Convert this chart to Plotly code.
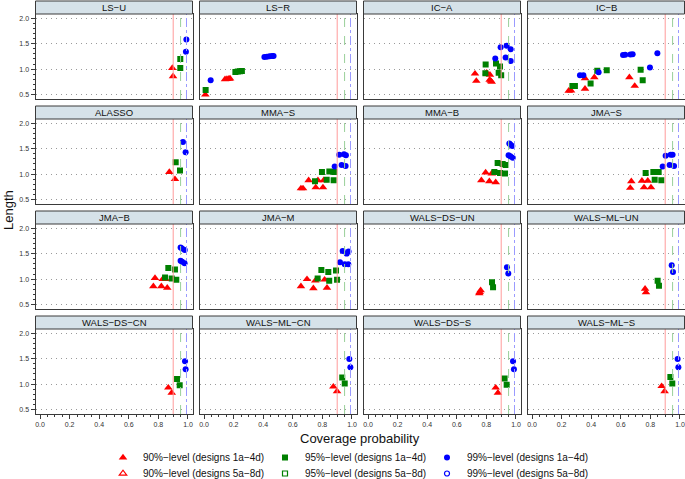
import plotly.graph_objects as go

W, H = 685, 479

panels = ["LS\u2212U", "LS\u2212R", "IC\u2212A", "IC\u2212B",
          "ALASSO", "MMA\u2212S", "MMA\u2212B", "JMA\u2212S",
          "JMA\u2212B", "JMA\u2212M", "WALS\u2212DS\u2212UN", "WALS\u2212ML\u2212UN",
          "WALS\u2212DS\u2212CN", "WALS\u2212ML\u2212CN", "WALS\u2212DS\u2212S", "WALS\u2212ML\u2212S"]

# 90%-level, designs 1a-4d
cov90 = [
    [0.894, 0.899],
    [0.009, 0.142, 0.155, 0.168, 0.176],
    [0.723, 0.732, 0.802, 0.824, 0.822, 0.836, 0.830],
    [0.248, 0.264, 0.358, 0.358, 0.421, 0.658, 0.694],
    [0.874, 0.912],
    [0.655, 0.669, 0.707, 0.755, 0.770, 0.804, 0.809],
    [0.766, 0.795, 0.820, 0.836, 0.863, 0.865],
    [0.664, 0.671, 0.743, 0.757, 0.782, 0.804],
    [0.766, 0.777, 0.820, 0.829, 0.860, 0.849],
    [0.655, 0.696, 0.739, 0.752, 0.815, 0.831],
    [0.752, 0.755, 0.761],
    [0.764, 0.770],
    [0.867, 0.890],
    [0.874, 0.899],
    [0.863, 0.878],
    [0.876, 0.896],
]
len90 = [
    [1.02, 0.86],
    [0.50, 0.800, 0.805, 0.810, 0.815],
    [0.91, 0.77, 0.93, 0.89, 0.79, 0.75, 0.77],
    [0.575, 0.58, 0.614, 0.82, 0.84, 0.84, 0.67],
    [1.04, 0.90],
    [0.72, 0.72, 0.88, 0.74, 0.88, 0.74, 0.88],
    [0.88, 1.03, 0.86, 1.01, 0.84, 1.02],
    [0.73, 0.86, 0.87, 0.74, 0.87, 0.74],
    [0.86, 1.02, 0.86, 1.00, 0.83, 1.00],
    [0.86, 1.00, 0.82, 0.97, 0.99, 0.83],
    [0.72, 0.745, 0.78],
    [0.81, 0.74],
    [0.93, 0.83],
    [0.95, 0.86],
    [0.93, 0.83],
    [0.96, 0.86],
]

# 95%-level, designs 1a-4d
cov95 = [
    [0.948, 0.948],
    [0.011, 0.212, 0.228, 0.243, 0.256],
    [0.795, 0.793, 0.865, 0.892, 0.883, 0.900],
    [0.273, 0.290, 0.396, 0.441, 0.505, 0.734, 0.748],
    [0.917, 0.946],
    [0.750, 0.797, 0.829, 0.847, 0.880, 0.876],
    [0.854, 0.876, 0.892, 0.910, 0.926, 0.930],
    [0.768, 0.820, 0.856, 0.829, 0.874],
    [0.845, 0.867, 0.890, 0.912, 0.921],
    [0.768, 0.793, 0.840, 0.846, 0.892, 0.899],
    [0.838, 0.845],
    [0.849, 0.858],
    [0.926, 0.944],
    [0.934, 0.951],
    [0.923, 0.937],
    [0.935, 0.948],
]
len95 = [
    [1.20, 1.02],
    [0.59, 0.945, 0.952, 0.958, 0.962],
    [1.09, 0.92, 1.11, 1.05, 0.93, 0.88],
    [0.67, 0.67, 0.72, 0.97, 0.98, 0.99, 0.78],
    [1.235, 1.07],
    [0.86, 1.04, 0.89, 1.05, 1.04, 0.88],
    [1.04, 1.22, 1.02, 1.20, 1.01, 1.18],
    [1.02, 1.04, 1.04, 0.89, 0.88],
    [1.03, 1.22, 1.01, 1.19, 0.99],
    [1.01, 1.18, 1.14, 0.97, 1.17, 0.99],
    [0.94, 0.84],
    [0.97, 0.87],
    [1.10, 0.98],
    [1.13, 1.01],
    [1.11, 0.99],
    [1.14, 1.01],
]

# 99%-level, designs 1a-4d
cov99 = [
    [0.989, 0.986],
    [0.045, 0.408, 0.425, 0.443, 0.460, 0.470],
    [0.860, 0.896, 0.937, 0.964, 0.930, 0.964],
    [0.324, 0.347, 0.450, 0.615, 0.630, 0.665, 0.680, 0.797, 0.847],
    [0.966, 0.984],
    [0.883, 0.914, 0.946, 0.959, 0.930, 0.957],
    [0.955, 0.962, 0.975, 0.950, 0.962, 0.978],
    [0.883, 0.903, 0.937, 0.950, 0.930, 0.960],
    [0.950, 0.960, 0.978, 0.950, 0.960, 0.977],
    [0.919, 0.937, 0.964, 0.977, 0.951, 0.975],
    [0.939, 0.948],
    [0.944, 0.953],
    [0.980, 0.984],
    [0.982, 0.989],
    [0.980, 0.986],
    [0.984, 0.989],
]
len99 = [
    [1.58, 1.34],
    [0.78, 1.240, 1.245, 1.250, 1.255, 1.258],
    [1.21, 1.43, 1.46, 1.39, 1.23, 1.16],
    [0.88, 0.88, 0.94, 1.275, 1.28, 1.285, 1.29, 1.03, 1.31],
    [1.63, 1.43],
    [1.15, 1.38, 1.39, 1.37, 1.18, 1.16],
    [1.60, 1.58, 1.55, 1.37, 1.35, 1.32],
    [1.15, 1.36, 1.38, 1.38, 1.18, 1.16],
    [1.62, 1.60, 1.57, 1.36, 1.34, 1.31],
    [1.33, 1.55, 1.50, 1.54, 1.29, 1.29],
    [1.235, 1.11],
    [1.27, 1.14],
    [1.45, 1.29],
    [1.49, 1.33],
    [1.45, 1.29],
    [1.49, 1.33],
]

levels = [0.90, 0.95, 0.99]
level_names = ["90%\u2212level", "95%\u2212level", "99%\u2212level"]
y_ticks = [0.5, 1.0, 1.5, 2.0]
y_ticklabels = ["0.5", "1.0", "1.5", "2.0"]
x_ticks = [0.0, 0.2, 0.4, 0.6, 0.8, 1.0]
x_ticklabels = ["0.0", "0.2", "0.4", "0.6", "0.8", "1.0"]

colors = ["#ff0000", "#008000", "#0000ff"]
ref_colors = ["#ff9a9a", "#9ad09a", "#9a9aff"]
ref_dash = ["solid", "dash", "dashdot"]
symbols = ["triangle-up", "square", "circle"]
open_symbols = ["triangle-up-open", "square-open", "circle-open"]
sizes = [7.5, 6, 6]

FONT = "Liberation Sans, Arial, Helvetica, sans-serif"

fig = go.Figure()

XR = [-0.0305, 1.0305]
YR = [0.415, 2.08]


def col_px(c):
    x0 = 35.5 + 164 * c
    return x0, x0 + 157


def row_px(r):
    top = 1 + 105 * r
    return top, top + 13, top + 98  # strip top, strip bottom/plot top, plot bottom


series = [(cov90, len90), (cov95, len95), (cov99, len99)]
shapes = []
annotations = []

for i, name in enumerate(panels):
    r, c = divmod(i, 4)
    ax = "" if i == 0 else str(i + 1)
    x0, x1 = col_px(c)
    st, sb, pb = row_px(r)
    xa = dict(
        domain=[x0 / W, x1 / W], range=XR, anchor="y" + ax, showgrid=False,
        zeroline=False, showline=True, mirror=True, linecolor="#3a3a3a", linewidth=1,
        tickvals=x_ticks, ticktext=x_ticklabels,
    )
    ya = dict(
        domain=[(H - pb) / H, (H - sb) / H], range=YR, anchor="x" + ax,
        showgrid=True, gridcolor="#9a9a9a", griddash="1px,4px", gridwidth=1,
        zeroline=False, showline=True, mirror=True, linecolor="#3a3a3a", linewidth=1,
        tickvals=y_ticks, ticktext=y_ticklabels,
    )
    if r == 3:
        xa.update(ticks="outside", ticklen=4, tickcolor="#3a3a3a", showticklabels=True,
                  tickfont=dict(size=7, color="#333333", family=FONT),
                  minor=dict(ticks="outside", ticklen=2, dtick=0.05, tick0=0, tickcolor="#3a3a3a"))
    else:
        xa.update(ticks="", showticklabels=False)
    if c == 0:
        ya.update(ticks="outside", ticklen=4, tickcolor="#3a3a3a", showticklabels=True,
                  tickfont=dict(size=7, color="#333333", family=FONT),
                  minor=dict(ticks="outside", ticklen=2, dtick=0.1, tick0=0, tickcolor="#3a3a3a"))
    else:
        ya.update(ticks="", showticklabels=False)
    fig.update_layout(**{"xaxis" + ax: xa, "yaxis" + ax: ya})

    # reference lines at nominal levels
    for k, lv in enumerate(levels):
        shapes.append(dict(type="line", xref="x" + ax, yref="y" + ax + " domain",
                           x0=lv, x1=lv, y0=0, y1=1,
                           line=dict(color=ref_colors[k], width=1, dash=ref_dash[k])))

    # strip
    shapes.append(dict(type="rect", xref="paper", yref="paper",
                       x0=x0 / W, x1=x1 / W, y0=(H - sb) / H, y1=(H - st) / H,
                       fillcolor="#d6e2e9", line=dict(color="#3a3a3a", width=1), layer="above"))
    annotations.append(dict(text=name, xref="paper", yref="paper",
                            x=(x0 + x1) / 2 / W, y=(H - (st + sb) / 2) / H,
                            showarrow=False, xanchor="center", yanchor="middle",
                            font=dict(size=9.5, color="#111111", family=FONT)))

    for k in range(3):
        xs, ys = series[k]
        fig.add_trace(go.Scatter(
            x=xs[i], y=ys[i], mode="markers", xaxis="x" + ax, yaxis="y" + ax,
            marker=dict(symbol=symbols[k], size=sizes[k], color=colors[k], line=dict(width=0)),
            name=f"{level_names[k]} (designs 1a\u22124d)", showlegend=(i == 0),
            legend="legend", cliponaxis=True, hoverinfo="skip",
        ))

# legend entries for designs 5a-8d (no distinct points visible in the panels)
for k in range(3):
    fig.add_trace(go.Scatter(
        x=[None], y=[None], mode="markers",
        marker=dict(symbol=open_symbols[k], size=sizes[k] - 1, color=colors[k], line=dict(width=1.2)),
        name=f"{level_names[k]} (designs 5a\u22128d)", showlegend=True, legend="legend2",
    ))

annotations.append(dict(text="Coverage probability", xref="paper", yref="paper",
                        x=360 / W, y=(H - 438) / H, showarrow=False,
                        xanchor="center", yanchor="middle",
                        font=dict(size=13, color="#111111", family=FONT)))
annotations.append(dict(text="Length", xref="paper", yref="paper",
                        x=8 / W, y=(H - 210) / H, showarrow=False, textangle=-90,
                        xanchor="center", yanchor="middle",
                        font=dict(size=13, color="#111111", family=FONT)))

leg_common = dict(orientation="h", xanchor="left", yanchor="top", entrywidth=117,
                  font=dict(size=10, color="#111111", family=FONT), bgcolor="rgba(0,0,0,0)",
                  itemsizing="trace", tracegroupgap=0, borderwidth=0)
fig.update_layout(
    width=W, height=H, margin=dict(l=0, r=0, t=0, b=0, autoexpand=False),
    paper_bgcolor="white", plot_bgcolor="white",
    shapes=shapes, annotations=annotations,
    legend=dict(x=103 / W, y=(H - 443) / H, **leg_common),
    legend2=dict(x=103 / W, y=(H - 459) / H, **leg_common),
    font=dict(family=FONT),
)

fig.write_html(
    "out.html",
    config={"displayModeBar": False},
    post_script="document.body.style.margin='0';document.body.style.padding='0';"
                "document.body.style.overflow='hidden';",
)
